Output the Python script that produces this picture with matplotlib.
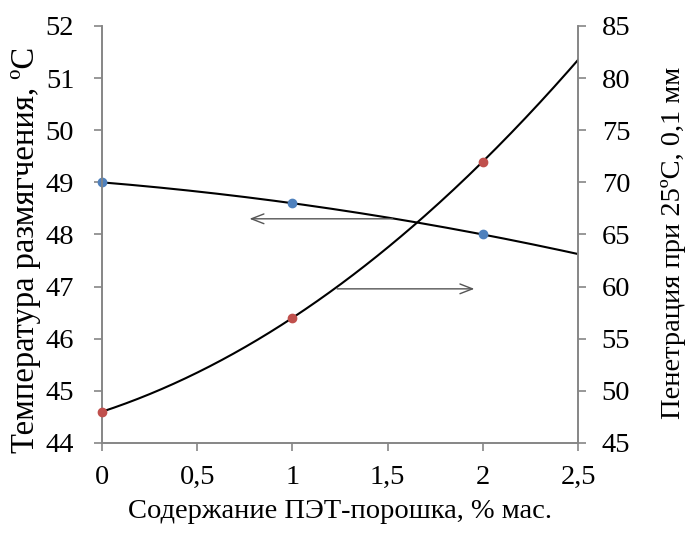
import numpy as np
import matplotlib
matplotlib.use("Agg")
import matplotlib.pyplot as plt
from matplotlib.ticker import FixedLocator, FixedFormatter

plt.rcParams['font.family'] = ['Liberation Serif', 'DejaVu Serif']

pet_content = [0, 1, 2]
softening_temp = [49.0, 48.6, 48.0]
penetration = [48, 57, 72]

x_ticks = [0, 0.5, 1, 1.5, 2, 2.5]
x_tick_labels = ["0", "0,5", "1", "1,5", "2", "2,5"]
left_ticks = [44, 45, 46, 47, 48, 49, 50, 51, 52]
right_ticks = [45, 50, 55, 60, 65, 70, 75, 80, 85]

xlabel = "Содержание ПЭТ-порошка, % мас."
ylabel_left = "Температура размягчения, ºС"
ylabel_right = "Пенетрация при 25ºС, 0,1 мм"

FS = 20.5
gray = "#868686"
blue = "#4F81BD"
red = "#C0504D"

fig = plt.figure(figsize=(6.89, 5.38), dpi=100)
ax = fig.add_axes([0.148, 0.1766, 0.691, 0.7751])
ax2 = ax.twinx()

xs = np.linspace(0, 2.5, 200)
ct = np.polyfit(pet_content, softening_temp, 2)
cp = np.polyfit(pet_content, penetration, 2)

ax.plot(xs, np.polyval(ct, xs), color="black", lw=1.5, zorder=2)
ax.plot(pet_content, softening_temp, 'o', color=blue, ms=6, zorder=3, clip_on=False)
ax2.plot(xs, np.polyval(cp, xs), color="black", lw=1.5, zorder=2)
ax2.plot(pet_content, penetration, 'o', color=red, ms=6, zorder=3, clip_on=False)

ax.set_xlim(0, 2.5)
ax.set_ylim(44, 52)
ax2.set_ylim(45, 85)

ax.xaxis.set_major_locator(FixedLocator(x_ticks))
ax.xaxis.set_major_formatter(FixedFormatter(x_tick_labels))
ax.set_yticks(left_ticks)
ax2.set_yticks(right_ticks)

for a in (ax, ax2):
    for s in a.spines.values():
        s.set_color(gray)
        s.set_linewidth(1.2)
    a.spines['top'].set_visible(False)
    a.tick_params(colors=gray, labelcolor="black", labelsize=FS, length=6, width=1.2, direction='out')

ax.tick_params(axis='x', pad=10)
ax.tick_params(axis='y', pad=14)
ax2.tick_params(axis='y', pad=11)
ax.set_xlabel(xlabel, fontsize=FS, labelpad=6)
ax.set_ylabel(ylabel_left, fontsize=23.5, labelpad=3, y=0.463)
ax2.set_ylabel(ylabel_right, fontsize=FS, labelpad=22, y=0.48)

# Arrows pointing to corresponding axes
y_left_arrow = np.polyval(ct, 1.54)
ax.annotate("", xy=(0.76, y_left_arrow), xytext=(1.54, y_left_arrow),
            arrowprops=dict(arrowstyle="->,head_length=0.9,head_width=0.35", color="#555555", lw=1.0))
y_right_arrow = np.polyval(cp, 1.22)
ax2.annotate("", xy=(1.97, y_right_arrow), xytext=(1.22, y_right_arrow),
             arrowprops=dict(arrowstyle="->,head_length=0.9,head_width=0.35", color="#555555", lw=1.0))

fig.savefig("out.png", dpi=100)
